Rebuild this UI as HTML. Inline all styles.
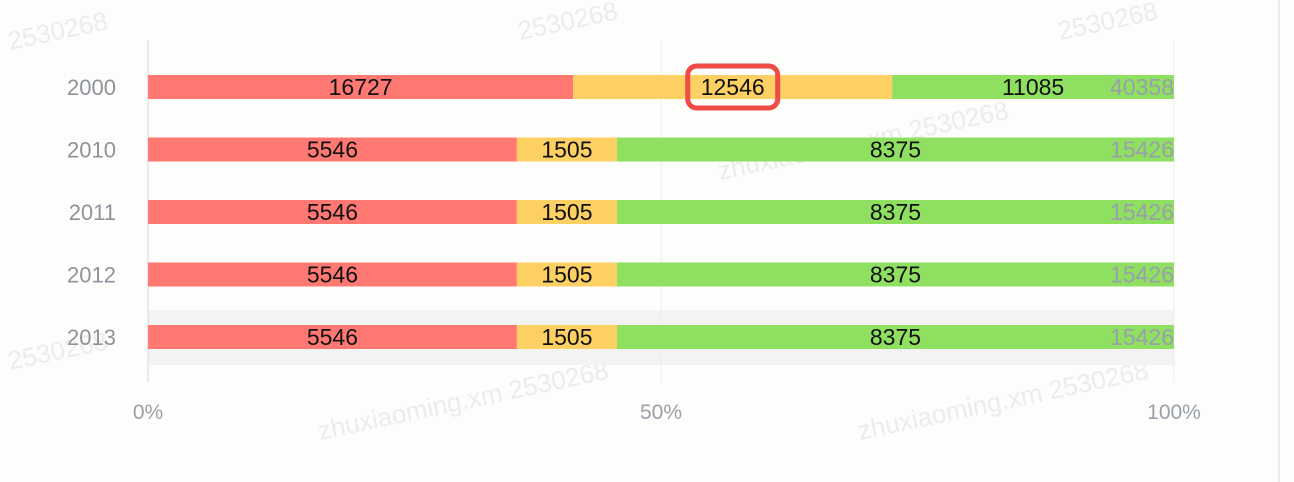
<!DOCTYPE html>
<html><head><meta charset="utf-8"><style>
html,body{margin:0;padding:0;background:#fdfdfb;}
svg{display:block;font-family:"Liberation Sans",sans-serif;}
</style></head><body>
<svg id="chart" width="1294" height="482">
<rect x="0" y="0" width="1294" height="482" fill="#fdfdfb"/>
<line x1="1279" y1="0" x2="1279" y2="482" stroke="#ececec" stroke-width="2"/>
<g id="wm" fill="#e4e4e4" font-size="26" opacity="0.7">
<text transform="translate(10,50) rotate(-12)">2530268</text>
<text transform="translate(520,40) rotate(-12)">2530268</text>
<text transform="translate(1060,40) rotate(-12)">2530268</text>
<text transform="translate(320,440) rotate(-12)">zhuxiaoming.xm 2530268</text>
<text transform="translate(860,440) rotate(-12)">zhuxiaoming.xm 2530268</text>
<text transform="translate(10,370) rotate(-12)">2530268</text>
<text transform="translate(720,180) rotate(-12)">zhuxiaoming.xm 2530268</text>
</g>
<g id="plot"></g>
</svg>
<script>
const categories=["2000","2010","2011","2012","2013"];
const seriesRed=[16727,5546,5546,5546,5546];
const seriesYellow=[12546,1505,1505,1505,1505];
const seriesGreen=[11085,8375,8375,8375,8375];
const tickLabels=["0%","50%","100%"];
const tickValues=[0,0.5,1];
const highlightRow=4;

const ns="http://www.w3.org/2000/svg";
const g=document.getElementById('plot');
const X0=148,X1=1174,rowTop=87,rowStep=62.5,barH=24;
const xs=v=>X0+v*(X1-X0);
const ys=i=>rowTop+i*rowStep;
function mk(t,a){const e=document.createElementNS(ns,t);for(const k in a)e.setAttribute(k,a[k]);g.appendChild(e);return e;}

const hb=mk('rect',{x:X0,y:ys(highlightRow)-27,width:X1-X0,height:55,fill:'#f3f3f4'});


tickValues.forEach((v,i)=>{
 const l=mk('line',{x1:xs(v),x2:xs(v),y1:40,y2:382,stroke:i==0?'#d8d8d8':'#eeeeee','stroke-width':1});
 
 
 const t=mk('text',{x:xs(v),y:419,'text-anchor':'middle','font-size':21,fill:'#9a9fa8'});
 t.textContent=tickLabels[i];
 
 
});
const colors=['#ff7872','#fdd063','#8fdf60'];
const names=['red','yellow','green'];
categories.forEach((c,i)=>{
 const vals=[seriesRed[i],seriesYellow[i],seriesGreen[i]];
 const tot=vals.reduce((a,b)=>a+b,0);
 const y=ys(i);
 const lab=mk('text',{x:116,y:y+8,'text-anchor':'end','font-size':22,fill:'#8e939c'});
 lab.textContent=c;
 
 
 let acc=0;
 vals.forEach((v,j)=>{
  const a=xs(acc/tot),b=xs((acc+v)/tot);acc+=v;
  const r=mk('rect',{x:a,y:y-12,width:b-a,height:barH,fill:colors[j]});
  
  
  const t=mk('text',{x:(a+b)/2,y:y+8,'text-anchor':'middle','font-size':23,fill:'#111'});
  t.textContent=v;
  
  
  if(i==0&&j==1){
   const w=t.getBBox().width+26;
   const hl=mk('rect',{x:(a+b)/2-w/2,y:y-21,width:w,height:42,rx:9,fill:'none',stroke:'#f04b46','stroke-width':5});
   
   
  }
 });
 const tt=mk('text',{x:X1,y:y+8,'text-anchor':'end','font-size':23,fill:'#9aa0ab'});
 tt.textContent=tot;
 
 
});
</script>
</body></html>
